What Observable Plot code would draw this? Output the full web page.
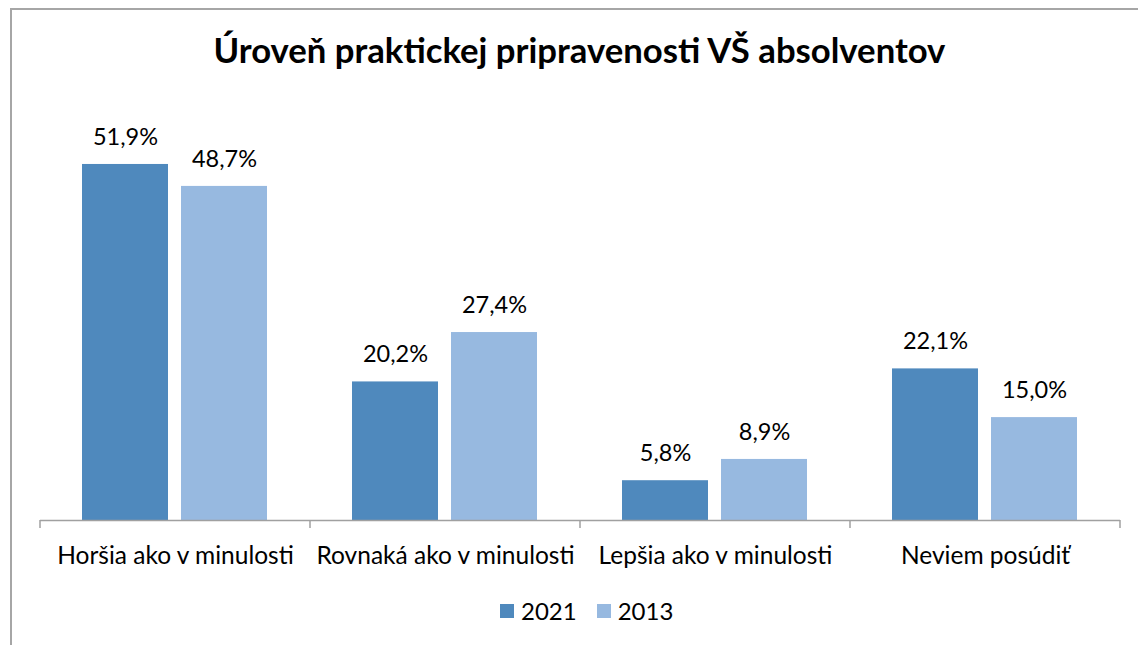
<!DOCTYPE html>
<html><head><meta charset="utf-8">
<script src="https://cdn.jsdelivr.net/npm/d3@7"></script>
<script src="https://cdn.jsdelivr.net/npm/@observablehq/plot@0.6"></script>
<style>
body{margin:0;background:#fff;overflow:hidden;width:1138px;height:645px;position:relative;font-family:Lato,"Open Sans",sans-serif;}
#frame{position:absolute;left:10px;top:8px;width:1150px;height:660px;border:2px solid #a6a6a6;box-sizing:border-box;}
#title{position:absolute;top:28px;left:0;width:1159px;text-align:center;font-weight:bold;font-size:34.7px;color:#000;line-height:44px;}
#chart{position:absolute;left:0;top:0;}
#legend{position:absolute;left:500px;top:594px;}
.lg-swatch > svg{margin-right:7px !important;}
.lg-swatch{margin-right:20px !important;}
</style></head>
<body>
<div id="frame"></div>
<div id="title">Úroveň praktickej pripravenosti VŠ absolventov</div>
<div id="chart"></div>
<div id="legend"></div>
<script>
const categories = ["Horšia ako v minulosti", "Rovnaká ako v minulosti", "Lepšia ako v minulosti", "Neviem posúdiť"];
const series = ["2021", "2013"];
const values2021 = [51.9, 20.2, 5.8, 22.1];
const values2013 = [48.7, 27.4, 8.9, 15.0];
const colors = ["#4f89bd", "#97b9e0"];

const data = [];
categories.forEach((c, i) => {
  data.push({cat: c, year: series[0], value: values2021[i]});
  data.push({cat: c, year: series[1], value: values2013[i]});
});
const fmt = d => d.value.toFixed(1).replace(".", ",") + "%";

const chart = Plot.plot({
  width: 1138, height: 645,
  marginLeft: 39, marginRight: 18, marginTop: 108.4, marginBottom: 125,
  style: {background: "transparent", fontFamily: "Lato, 'Open Sans', sans-serif", color: "#000"},
  fx: {domain: categories, padding: 0, label: null},
  x: {domain: series, paddingInner: 0.131, paddingOuter: 0.429, axis: null},
  y: {domain: [0, 60], axis: null},
  color: {domain: series, range: colors},
  marks: [
    Plot.barY(data, {fx: "cat", x: "year", y: "value", fill: "year"}),
    Plot.text(data, {fx: "cat", x: "year", y: "value", text: fmt, dy: -27, fontSize: 23.5, fill: "#000"}),
    Plot.ruleY([0], {stroke: "#a0a0a0", strokeWidth: 1.5}),
    Plot.axisFx({anchor: "bottom", tickSize: 0, tickPadding: 26, fontSize: 24.5, label: null, fill: "#000"})
  ]
});
document.getElementById("chart").appendChild(chart);

// category boundary ticks from the fx scale
const fx = chart.scale("fx");
const y0 = chart.scale("y").apply(0);
const bounds = categories.map(c => fx.apply(c));
bounds.push(fx.apply(categories[categories.length - 1]) + fx.bandwidth);
d3.select(chart).append("g").selectAll("line").data(bounds).join("line")
  .attr("x1", d => d).attr("x2", d => d)
  .attr("y1", y0).attr("y2", y0 + 8)
  .attr("stroke", "#a0a0a0").attr("stroke-width", 1.5);

const legend = Plot.legend({color: {domain: series, range: colors}, swatchSize: 14, className: "lg"});
legend.style.font = "24px Lato, 'Open Sans', sans-serif";
legend.style.color = "#000";
document.getElementById("legend").appendChild(legend);
</script>
</body></html>
